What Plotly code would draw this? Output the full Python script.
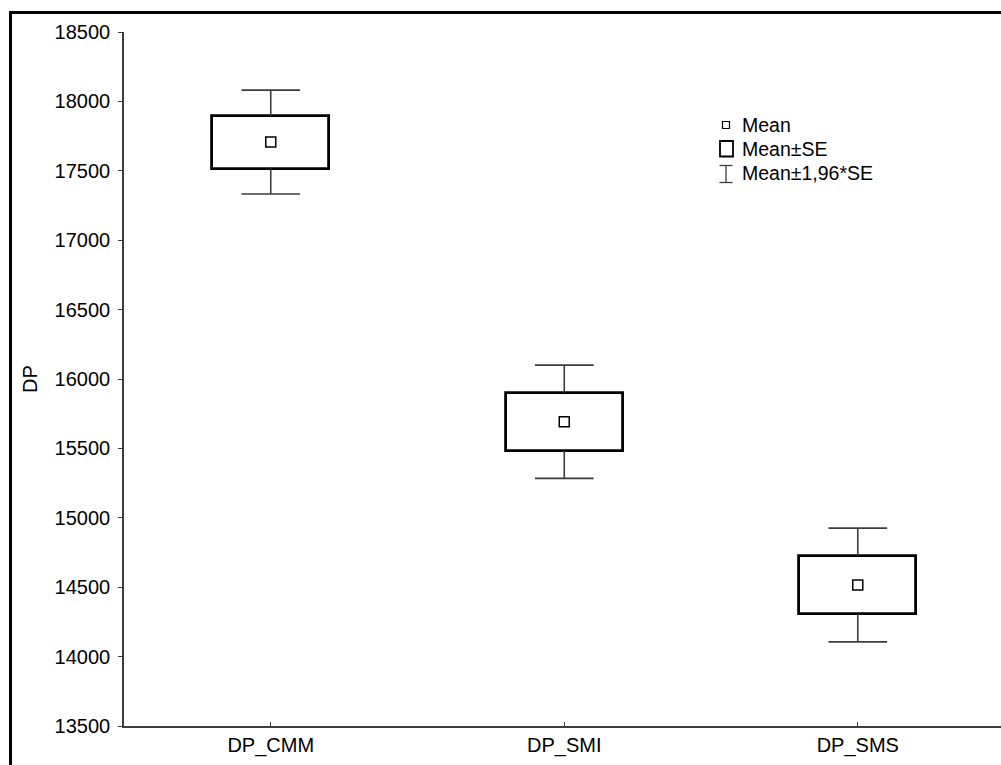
import plotly.graph_objects as go

# Group means and standard errors of DP
categories = ["DP_CMM", "DP_SMI", "DP_SMS"]
means = [17707, 15692, 14516]
std_errors = [191, 208, 209]
ci_factor = 1.96

y_ticks = [13500, 14000, 14500, 15000, 15500, 16000, 16500, 17000, 17500, 18000, 18500]

W, H = 1001, 765
ML, MR, MT, MB = 124, 0, 32, 39
PW, PH = W - ML - MR, H - MT - MB

FONT = "Liberation Sans, Arial, sans-serif"
AXIS_COL = "#3c3c3c"

xs = list(range(len(categories)))
box_lo = [m - s for m, s in zip(means, std_errors)]
box_hi = [m + s for m, s in zip(means, std_errors)]
ci_lo = [m - ci_factor * s for m, s in zip(means, std_errors)]
ci_hi = [m + ci_factor * s for m, s in zip(means, std_errors)]

# Whisker segments: box edge -> interval end, plus a cap
cap = 0.1
wx, wy = [], []
for x, bl, bh, cl, ch in zip(xs, box_lo, box_hi, ci_lo, ci_hi):
    wx += [x, x, None, x - cap, x + cap, None, x, x, None, x - cap, x + cap, None]
    wy += [bh, ch, None, ch, ch, None, bl, cl, None, cl, cl, None]

fig = go.Figure()
fig.add_trace(go.Scatter(x=wx, y=wy, mode="lines",
                         line=dict(color=AXIS_COL, width=1.6),
                         hoverinfo="skip", showlegend=False))
fig.add_trace(go.Bar(x=xs, y=[h - l for h, l in zip(box_hi, box_lo)], base=box_lo,
                     width=0.4, marker=dict(color="white", line=dict(color="black", width=2.8)),
                     showlegend=False))
fig.add_trace(go.Scatter(x=xs, y=means, mode="markers",
                         marker=dict(symbol="square", size=10, color="white",
                                     line=dict(color="black", width=1.5)),
                         showlegend=False))


def px_x(px):
    return (px - ML) / PW


def px_y(py):
    return (H - MB - py) / PH


shapes = []
# Outer frame (extends past the right/bottom edge)
shapes.append(dict(type="rect", xref="paper", yref="paper",
                   x0=px_x(10.5), x1=px_x(1030), y0=px_y(12.5), y1=px_y(800),
                   line=dict(color="black", width=3), fillcolor="rgba(0,0,0,0)", layer="above"))

# Key symbols
shapes.append(dict(type="rect", xref="paper", yref="paper",
                   x0=px_x(722.5), x1=px_x(729.5), y0=px_y(121.5), y1=px_y(128.5),
                   line=dict(color="black", width=1.2)))
shapes.append(dict(type="rect", xref="paper", yref="paper",
                   x0=px_x(720), x1=px_x(733), y0=px_y(141), y1=px_y(156.5),
                   line=dict(color="black", width=1.8)))
for seg in [(726, 165.5, 726, 182.5), (719.5, 165.5, 732.5, 165.5), (719.5, 182.5, 732.5, 182.5)]:
    shapes.append(dict(type="line", xref="paper", yref="paper",
                       x0=px_x(seg[0]), y0=px_y(seg[1]), x1=px_x(seg[2]), y1=px_y(seg[3]),
                       line=dict(color=AXIS_COL, width=1.3)))

annotations = []
for text, py in [("Mean", 125), ("Mean±SE", 149), ("Mean±1,96*SE", 173)]:
    annotations.append(dict(text=text, xref="paper", yref="paper", x=px_x(740), y=px_y(py),
                            xanchor="left", yanchor="middle", showarrow=False,
                            font=dict(family=FONT, size=19.5, color="black")))
annotations.append(dict(text="DP", xref="paper", yref="paper", x=px_x(30), y=px_y(379),
                        xanchor="center", yanchor="middle", textangle=-90, showarrow=False,
                        font=dict(family=FONT, size=20, color="black")))

fig.update_layout(
    width=W, height=H,
    margin=dict(l=ML, r=MR, t=MT, b=MB, pad=0),
    paper_bgcolor="white", plot_bgcolor="white",
    font=dict(family=FONT, size=20, color="black"),
    shapes=shapes, annotations=annotations,
    showlegend=False, bargap=0,
    xaxis=dict(range=[-0.5, 2.488], tickmode="array", tickvals=xs, ticktext=categories,
               showgrid=False, zeroline=False, showline=True, linecolor=AXIS_COL, linewidth=1.6,
               ticks="inside", ticklen=4, tickwidth=1, tickcolor=AXIS_COL,
               tickfont=dict(family=FONT, size=20, color="black")),
    yaxis=dict(range=[13500, 18500], tickmode="array", tickvals=y_ticks,
               ticktext=[str(v) for v in y_ticks],
               showgrid=False, zeroline=False, showline=True, linecolor=AXIS_COL, linewidth=1.6,
               ticks="outside", ticklen=4, tickwidth=1, tickcolor=AXIS_COL,
               ticklabelstandoff=4,
               tickfont=dict(family=FONT, size=20, color="black")),
)

fig.write_html("out.html")
